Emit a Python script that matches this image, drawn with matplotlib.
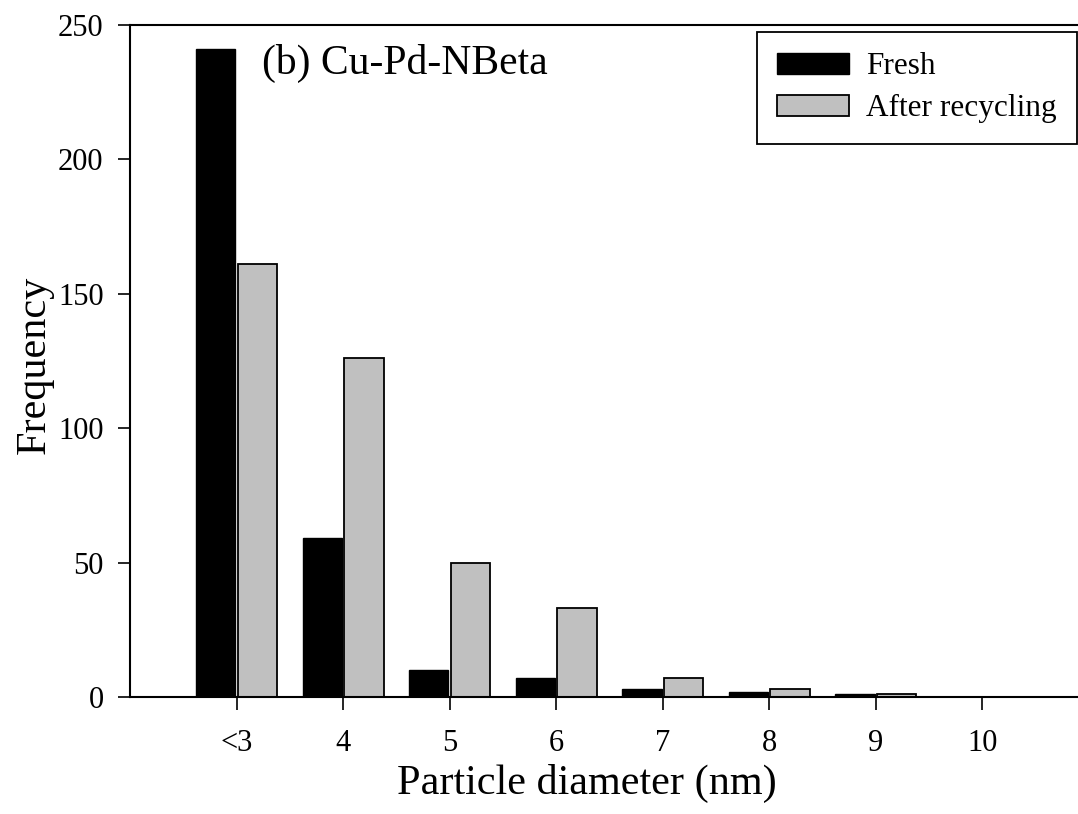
import matplotlib

matplotlib.use("Agg")
import matplotlib.pyplot as plt
import numpy as np

# particle size distribution
categories = ["<3", "4", "5", "6", "7", "8", "9", "10"]
fresh = [241, 59, 10, 7, 3, 2, 1, 0]
recycled = [161, 126, 50, 33, 7, 3, 1, 0]
yticks = [0, 50, 100, 150, 200, 250]

plt.rcParams["font.family"] = ["Liberation Serif", "DejaVu Serif"]

fig = plt.figure(figsize=(10.78, 8.14), dpi=100)
ax = fig.add_axes([130 / 1078, 117 / 814, 948 / 1078, 672 / 814])

x = np.arange(len(categories))
width = 0.37
ax.bar(x - 0.195, fresh, width, color="black", edgecolor="black", linewidth=1.0, label="Fresh")
ax.bar(x + 0.195, recycled, width, color="#c0c0c0", edgecolor="black", linewidth=1.3,
       label="After recycling")

ax.set_xlim(-1.0, 7.9)
ax.set_ylim(0, 250)
ax.set_xticks(x)
ax.set_xticklabels(categories)
ax.set_yticks(yticks)
ax.tick_params(axis="both", direction="out", length=9, width=1.2, labelsize=22)
ax.tick_params(axis="x", pad=14)
ax.tick_params(axis="y", pad=10)

for side in ["left", "top", "bottom"]:
    ax.spines[side].set_linewidth(1.5)
ax.spines["right"].set_visible(False)

ax.set_xlabel("Particle diameter (nm)", fontsize=30.4)
ax.set_ylabel("Frequency", fontsize=30.4)
# the original figure seems cropped on the right, so labels sit off-centre
ax.xaxis.set_label_coords(0.482, -0.100)
ax.yaxis.set_label_coords(-0.080, 0.494)

ax.text(0.139, 0.972, "(b) Cu-Pd-NBeta", transform=ax.transAxes, fontsize=30,
        ha="left", va="top")

leg = ax.legend(loc="upper right", bbox_to_anchor=(1077 / 1078, 782 / 814),
                bbox_transform=fig.transFigure, fontsize=22.5, fancybox=False,
                edgecolor="black", framealpha=1, borderaxespad=0,
                handlelength=2.3, handleheight=0.65, handletextpad=0.55,
                borderpad=0.65, labelspacing=0.42)
leg.get_frame().set_linewidth(1.3)

fig.savefig("out.png", dpi=100)
